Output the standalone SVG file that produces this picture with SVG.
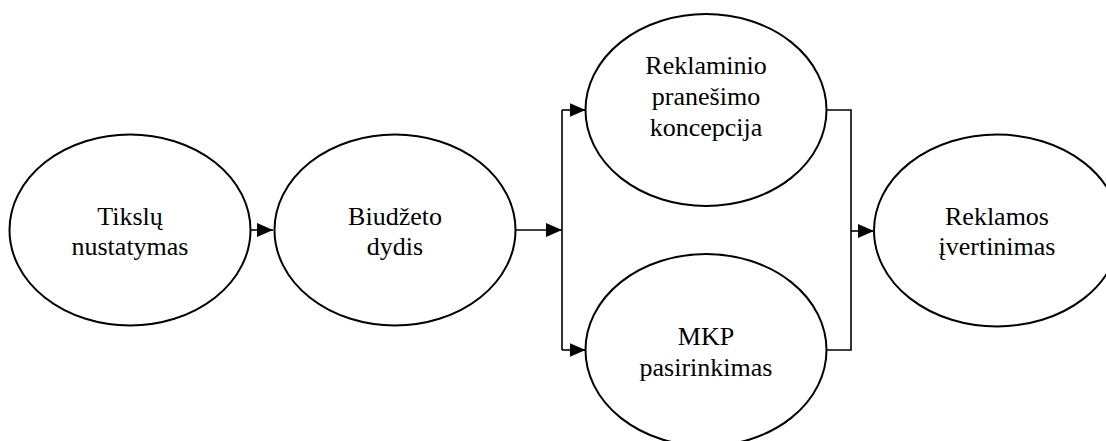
<svg xmlns="http://www.w3.org/2000/svg" width="1106" height="441" viewBox="0 0 1106 441">
<style>
.node ellipse{fill:#fff;stroke:#000;stroke-width:2}
.node text{font-family:'Liberation Serif','Times New Roman',Times,serif;font-size:26px;fill:#000;text-anchor:middle}
.conn{fill:none;stroke:#000;stroke-width:1.6}
</style>
<defs>
<marker id="ah" markerUnits="userSpaceOnUse" markerWidth="16" markerHeight="14" refX="16" refY="7" orient="auto">
<path d="M0,0 L16,7 L0,14 z" fill="#000"/>
</marker>
</defs>
<rect width="1106" height="441" fill="#fff"/>
<g id="connectors">
<line class="conn" x1="250" y1="230" x2="273" y2="230" marker-end="url(#ah)"/>
<line class="conn" x1="515" y1="230" x2="562" y2="230" marker-end="url(#ah)"/>
<line class="conn" x1="562" y1="110" x2="562" y2="350"/>
<line class="conn" x1="562" y1="110" x2="585.5" y2="110" marker-end="url(#ah)"/>
<line class="conn" x1="562" y1="350" x2="585.5" y2="350" marker-end="url(#ah)"/>
<polyline class="conn" points="826.5,110 851,110 851,350 826.5,350"/>
<line class="conn" x1="851" y1="231" x2="874" y2="231" marker-end="url(#ah)"/>
</g>
<g id="node-tikslu" class="node">
<ellipse cx="130" cy="230" rx="120.5" ry="95.5"/>
<text x="130" y="225" font-family="Liberation Serif, serif" font-size="26">Tikslų</text>
<text x="130" y="255" font-family="Liberation Serif, serif" font-size="26">nustatymas</text>
</g>
<g id="node-biudzeto" class="node">
<ellipse cx="395" cy="230" rx="120.5" ry="95.5"/>
<text x="395" y="225">Biudžeto</text>
<text x="395" y="255">dydis</text>
</g>
<g id="node-reklaminio" class="node">
<ellipse cx="706" cy="110" rx="120.5" ry="96"/>
<text x="706" y="74">Reklaminio</text>
<text x="706" y="105">pranešimo</text>
<text x="706" y="135.5">koncepcija</text>
</g>
<g id="node-mkp" class="node">
<ellipse cx="706" cy="350" rx="120.5" ry="96"/>
<text x="706" y="345">MKP</text>
<text x="706" y="376">pasirinkimas</text>
</g>
<g id="node-reklamos" class="node">
<ellipse cx="997" cy="230.5" rx="123" ry="96"/>
<text x="997" y="225">Reklamos</text>
<text x="997" y="255">įvertinimas</text>
</g>
</svg>
